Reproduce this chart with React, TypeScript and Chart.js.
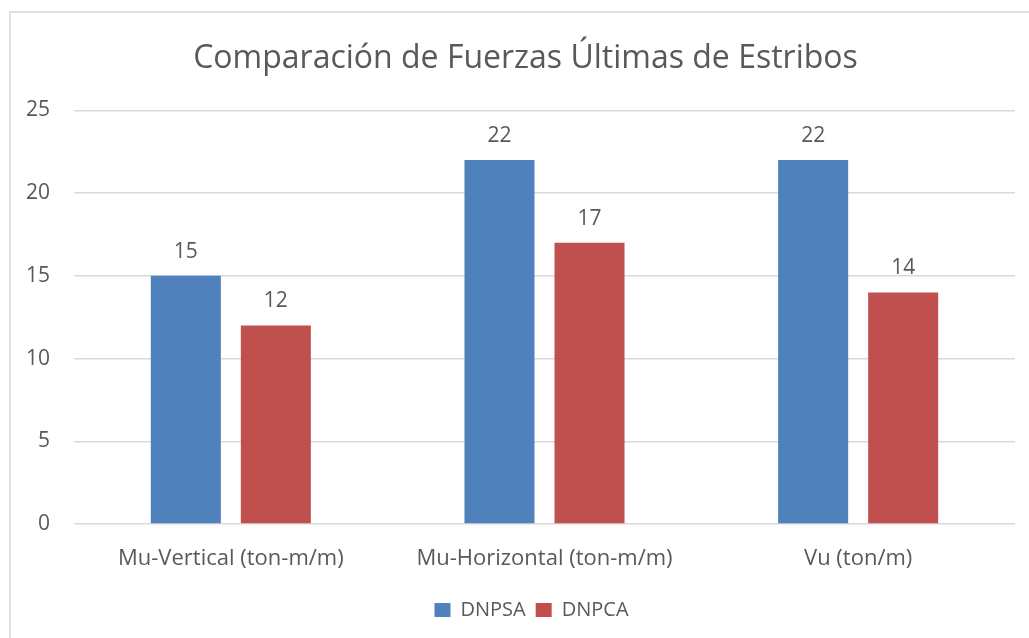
import React, { useEffect, useRef } from "react";
import { Chart, registerables } from "chart.js";

Chart.register(...registerables);

const TITLE = "Comparación de Fuerzas Últimas de Estribos";
const categories = ["Mu-Vertical (ton-m/m)", "Mu-Horizontal (ton-m/m)", "Vu (ton/m)"];
const dnpsaValues = [15, 22, 22];
const dnpcaValues = [12, 17, 14];
const seriesNames = ["DNPSA", "DNPCA"];
const yTicks = [0, 5, 10, 15, 20, 25];

const FONT = "'Open Sans', 'Noto Sans', sans-serif";
const TEXT = "#595959";
const GRID = "#d9d9d9";

const valueLabels = {
  id: "valueLabels",
  afterDatasetsDraw(chart: any) {
    const ctx = chart.ctx;
    ctx.save();
    ctx.font = `21px ${FONT}`;
    ctx.fillStyle = TEXT;
    ctx.textAlign = "center";
    ctx.textBaseline = "alphabetic";
    chart.data.datasets.forEach((ds: any, i: number) => {
      const meta = chart.getDatasetMeta(i);
      meta.data.forEach((bar: any, j: number) => {
        ctx.fillText(String(ds.data[j]), bar.x, bar.y - 18);
      });
    });
    ctx.restore();
  },
};

// Title and legend in the reference are centred on the whole frame, not on the canvas width
const shiftBlocks = {
  id: "shiftBlocks",
  afterLayout(chart: any) {
    const t = chart.titleBlock;
    if (t) { t.left += 18; t.right += 18; }
    const l = chart.legend;
    if (l) { l.left += 24; l.right += 24; }
  },
};

export default function App() {
  const ref = useRef<HTMLCanvasElement>(null);
  useEffect(() => {
    const chart = new Chart(ref.current!, {
      type: "bar",
      data: {
        labels: categories,
        datasets: [
          { label: seriesNames[0], data: dnpsaValues, backgroundColor: "#4f81bd" },
          { label: seriesNames[1], data: dnpcaValues, backgroundColor: "#c0504d" },
        ],
      },
      options: {
        animation: false,
        responsive: false,
        devicePixelRatio: 1,
        datasets: { bar: { categoryPercentage: 0.574, barPercentage: 0.778 } },
        layout: { padding: { left: 0, right: 14, top: 0, bottom: 8 } },
        scales: {
          x: {
            grid: { display: false },
            border: { display: false },
            ticks: { color: TEXT, font: { family: FONT, size: 22 }, padding: 14, maxRotation: 0 },
            afterFit: (s: any) => { s.height = 66; },
          },
          y: {
            min: yTicks[0],
            max: yTicks[yTicks.length - 1],
            afterBuildTicks: (s: any) => { s.ticks = yTicks.map((v) => ({ value: v })); },
            grid: { color: GRID, lineWidth: 1.5, drawTicks: false },
            border: { display: false },
            ticks: { color: TEXT, font: { family: FONT, size: 21 }, padding: 24 },
            afterFit: (s: any) => { s.width = 74; },
          },
        },
        plugins: {
          title: {
            display: true,
            text: TITLE,
            color: TEXT,
            font: { family: FONT, size: 32, weight: "normal" },
            padding: { top: 40, bottom: 32 },
          },
          legend: {
            position: "bottom",
            labels: {
              color: TEXT,
              font: { family: FONT, size: 20 },
              boxWidth: 16,
              boxHeight: 14,
              padding: 10,
            },
          },
          tooltip: { enabled: false },
        },
      },
      plugins: [valueLabels, shiftBlocks],
    });
    return () => chart.destroy();
  }, []);
  return (
    <div style={{ position: "fixed", left: 0, top: 0, width: 1029, height: 638, overflow: "hidden", background: "#fff" }}>
      <div style={{ position: "absolute", left: 9, top: 11, width: 1100, height: 700, border: "2px solid #e0e0e0" }} />
      <canvas ref={ref} width={1029} height={638} style={{ position: "absolute", left: 0, top: 0 }} />
    </div>
  );
}
